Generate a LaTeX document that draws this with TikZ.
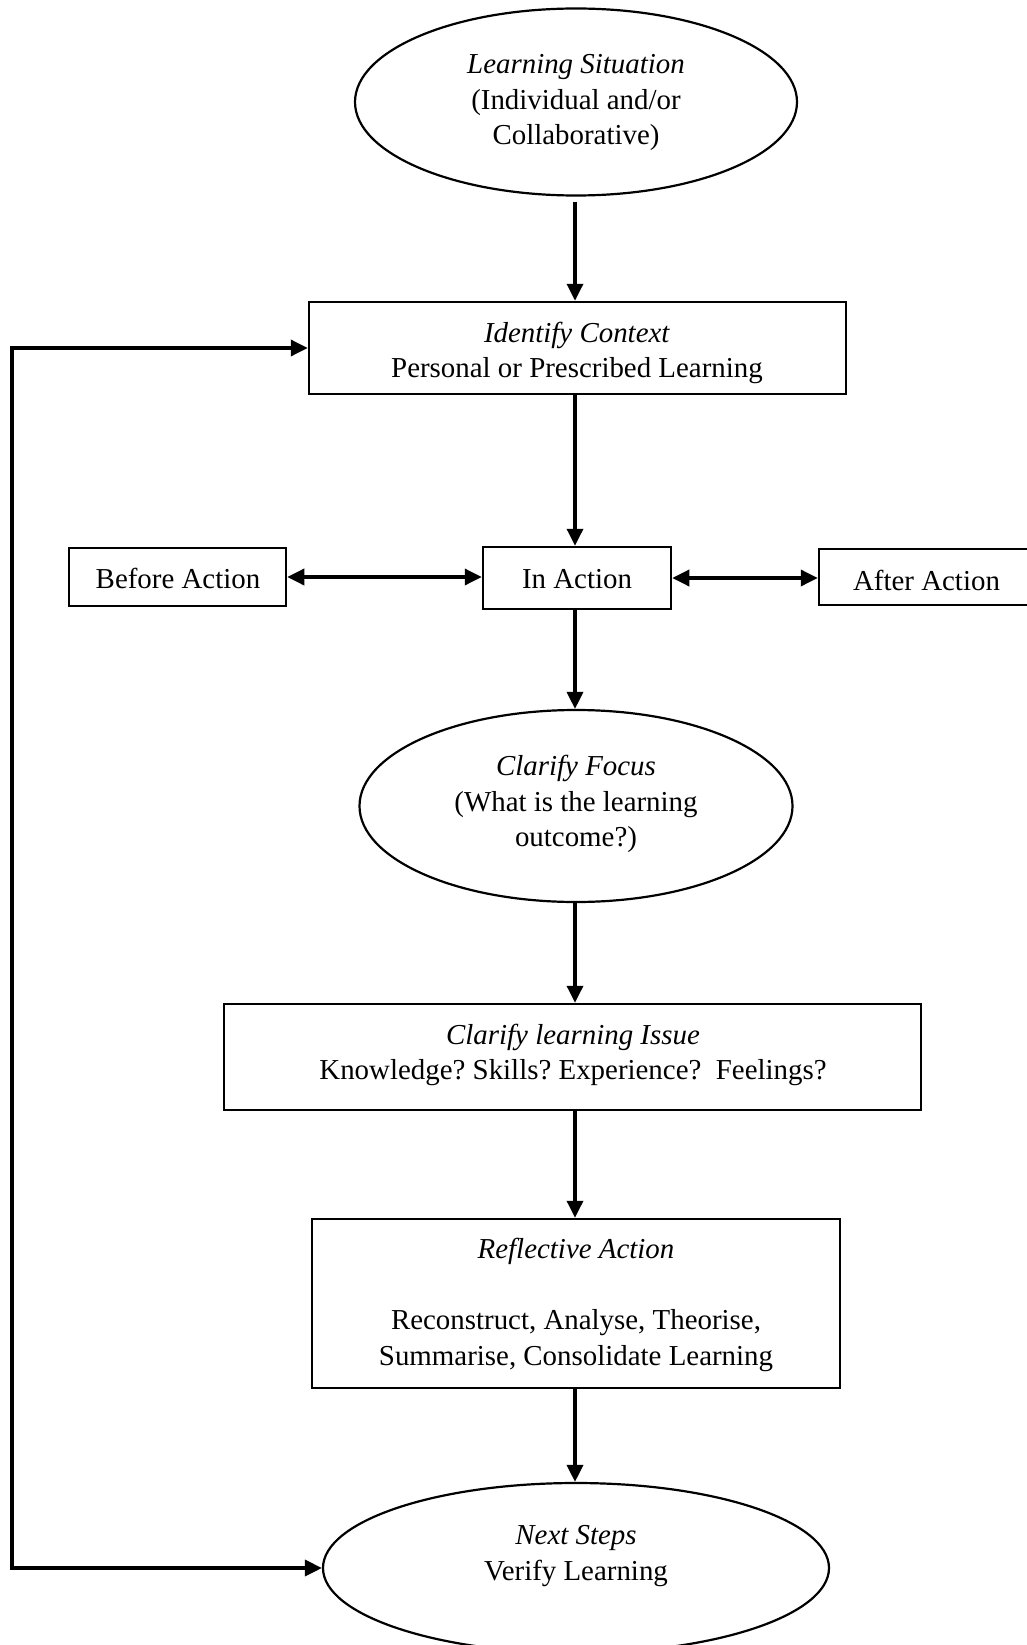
\documentclass[tikz,border=0pt]{standalone}
\usepackage{fontspec}
\setmainfont{Liberation Serif}
\usetikzlibrary{arrows.meta,shapes.geometric}

\tikzset{
  every node/.style={font=\fontsize{28.9}{35.5}\selectfont},
  box/.style={draw, line width=2.5pt, rectangle, inner sep=0pt},
  oval/.style={draw, line width=2.2pt, ellipse, inner sep=0pt},
  txt/.style={align=center, inner sep=0pt},
  conn/.style={line width=3.5pt, -{Triangle[length=17pt,width=16pt]}},
  dconn/.style={line width=3.5pt, {Triangle[length=17pt,width=16pt]}-{Triangle[length=17pt,width=16pt]}}
}

\begin{document}
\frenchspacing
\begin{tikzpicture}[x=1pt, y=-1pt]
  \useasboundingbox[fill=white] (0,0) rectangle (1026,1645);

  % ovals
  \node[oval, minimum width=442pt, minimum height=187pt] (situation) at (576,102) {};
  \node[txt] (situationtxt) at (576,103) {\textit{Learning Situation}\\(Individual and/or\\Collaborative)};

  \node[oval, minimum width=433pt, minimum height=192pt] (focus) at (576,806) {};
  \node[txt] (focustxt) at (576,804) {\textit{Clarify Focus}\\(What is the learning\\outcome?)};

  \node[oval, minimum width=506pt, minimum height=170pt] (next) at (576,1568) {};
  \node[txt] (nexttxt) at (576,1556) {\textit{Next Steps}\\Verify Learning};

  % rectangular steps
  \node[box, minimum width=537pt, minimum height=92pt] (ident) at (577.5,348) {};
  \node[txt] (identtxt) at (577,353) {\textit{Identify Context}\\Personal or Prescribed Learning};

  \node[box, minimum width=217pt, minimum height=58pt] (before) at (177.5,577) {};
  \node[txt] (beforetxt) at (178,578.5) {Before Action};

  \node[box, minimum width=188pt, minimum height=62pt] (inact) at (577,578) {};
  \node[txt] (inacttxt) at (577,579.5) {In Action};

  \node[box, minimum width=215pt, minimum height=56pt] (after) at (926.5,577) {};
  \node[txt] (aftertxt) at (926.5,580) {After Action};

  \node[box, minimum width=697pt, minimum height=106pt] (issue) at (572.5,1057) {};
  \node[txt] (issuetxt) at (573,1055) {\textit{Clarify learning Issue}\\Knowledge? Skills? Experience?\ \ Feelings?};

  \node[box, minimum width=528pt, minimum height=169pt] (reflect) at (576,1303.5) {};
  \node[txt] (reflecttxt) at (576,1305) {\textit{Reflective Action}\\[35.5pt]Reconstruct, Analyse, Theorise,\\Summarise, Consolidate Learning};

  % main downward flow
  \draw[conn, shorten <=5pt] (situation.south -| 575,0) -- (ident.north -| 575,0);
  \draw[conn] (ident.south -| 575,0) -- (inact.north -| 575,0);
  \draw[conn] (inact.south -| 575,0) -- (focus.north -| 575,0);
  \draw[conn] (focus.south -| 575,0) -- (issue.north -| 575,0);
  \draw[conn] (issue.south -| 575,0) -- (reflect.north -| 575,0);
  \draw[conn] (reflect.south -| 575,0) -- (next.north -| 575,0);

  % side links around In Action
  \draw[dconn] (before.east) -- (inact.west |- before.east);
  \draw[dconn] (inact.east) -- (after.west |- inact.east);

  % feedback loop from Next Steps back to Identify Context
  \coordinate (loopbottom) at (12,1568);
  \coordinate (looptop) at (12,348);
  \draw[dconn, line join=miter] (next.west) -- (loopbottom) -- (looptop) -- (ident.west);
\end{tikzpicture}
\end{document}
